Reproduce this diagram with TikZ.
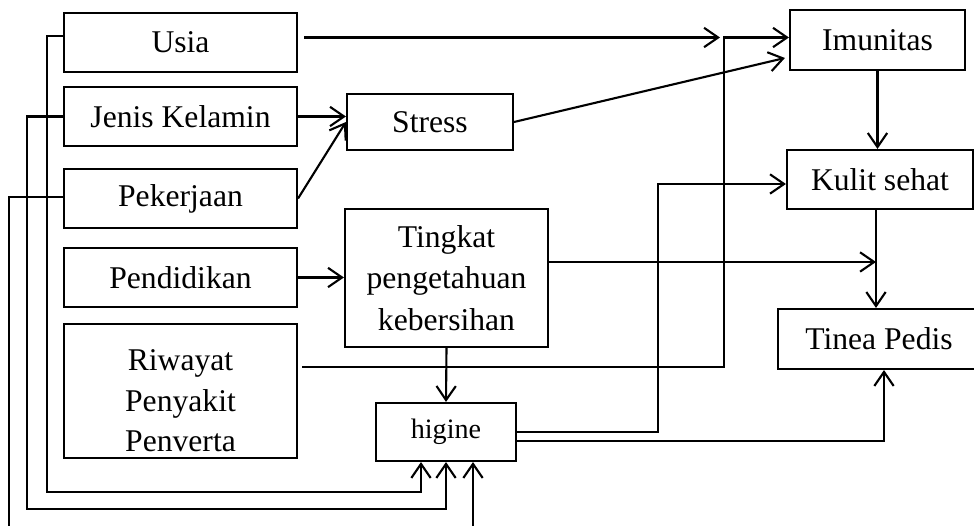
\documentclass[tikz,border=0pt]{standalone}
\usepackage{fontspec}
\setmainfont{Liberation Serif}
\usetikzlibrary{arrows.meta}

\begin{document}
\begin{tikzpicture}[>={Straight Barb[length=8pt,width=11pt]}]

% --- Gaya umum ---
\tikzset{
    kotak/.style={draw=black, line width=1.2pt, inner sep=0pt, align=center, font=\fontsize{18}{23}\selectfont},
    panah/.style={->, line width=1.2pt}
}

    \useasboundingbox (0,0) rectangle (19.48,10.52);
    \clip (0,0) rectangle (19.48,10.52);

    % Faktor di kolom kiri
    \node[kotak, minimum width=4.66cm, minimum height=1.18cm] (usia) at (3.61, 9.67) {Usia};
    \node[kotak, minimum width=4.66cm, minimum height=1.18cm] (jk) at (3.61, 8.19) {Jenis Kelamin};
    \node[kotak, minimum width=4.66cm, minimum height=1.18cm] (pek) at (3.61, 6.55) {Pekerjaan};
    \node[kotak, minimum width=4.66cm, minimum height=1.18cm] (pend) at (3.61, 4.97) {Pendidikan};
    \node[kotak, minimum width=4.66cm, minimum height=2.68cm, text height=2.43cm] (riw) at (3.61, 2.70) {Riwayat\\Penyakit\\Penverta};

    % Kolom tengah
    \node[kotak, minimum width=3.32cm, minimum height=1.12cm] (stress) at (8.60, 8.08) {Stress};
    \node[kotak, minimum width=4.06cm, minimum height=2.76cm, font=\fontsize{18}{23.5}\selectfont] (tingkat) at (8.93, 4.96) {Tingkat\\pengetahuan\\kebersihan};
    \node[kotak, minimum width=2.80cm, minimum height=1.16cm, font=\fontsize{16}{20}\selectfont] (hig) at (8.92, 1.88) {higine};

    % Kolom kanan
    \node[kotak, minimum width=3.50cm, minimum height=1.20cm] (imun) at (17.55, 9.72) {Imunitas};
    \node[kotak, minimum width=3.72cm, minimum height=1.18cm] (kulit) at (17.60, 6.93) {Kulit sehat};
    \node[kotak, minimum width=4.04cm, minimum height=1.20cm] (tinea) at (17.58, 3.74) {Tinea Pedis};

    % Titik bantu
    \coordinate (sambung) at (14.48, 9.77);
    \coordinate (kt) at ([xshift=-0.08cm]kulit.south);
    \coordinate (bawah1) at (0.94, 0.68);
    \coordinate (bawah2) at (0.54, 0.34);
    \coordinate (bawah3) at (0.18, -0.30);

    % Panah ke Stress dan Tingkat pengetahuan
    \draw[panah] (jk.east) -- (jk.east -| stress.west);
    \draw[panah] (pek.east) -- (stress.west);
    \draw[panah] (pend.east) -- (pend.east -| tingkat.west);

    % Panah ke Imunitas
    \draw[panah] ([xshift=0.12cm,yshift=0.1cm]usia.east) -- ([xshift=-0.08cm]sambung);
    \draw[panah] ([xshift=0.08cm,yshift=0.48cm]riw.east) -| (sambung) -- (sambung -| imun.west);
    \draw[panah] (stress.east) -- ([xshift=-0.08cm,yshift=-0.36cm]imun.west);

    % Jalur kanan
    \draw[panah] (imun.south) -- (imun.south |- kulit.north);
    \draw[panah] (kt) -- (kt |- tinea.north);
    \draw[panah] ([yshift=0.32cm]tingkat.east) -- ([yshift=0.32cm]tingkat.east -| kt);

    % Dari higine
    \draw[panah] (tingkat.south) -- (hig.north);
    \draw[panah] (hig.east) -- ++(2.82,0) |- ([yshift=-0.09cm]kulit.west);
    \draw[panah] ([yshift=-0.18cm]hig.east) -| ([xshift=0.1cm]tinea.south);

    % Umpan balik dari kolom kiri ke higine
    \draw[panah] ([yshift=0.13cm]usia.west) -| (bawah1) -| ([xshift=-0.5cm]hig.south);
    \draw[panah] (jk.west) -| (bawah2) -| (hig.south);
    \draw[panah] ([yshift=0.03cm]pek.west) -| (bawah3) -| ([xshift=0.54cm]hig.south);

\end{tikzpicture}
\end{document}
